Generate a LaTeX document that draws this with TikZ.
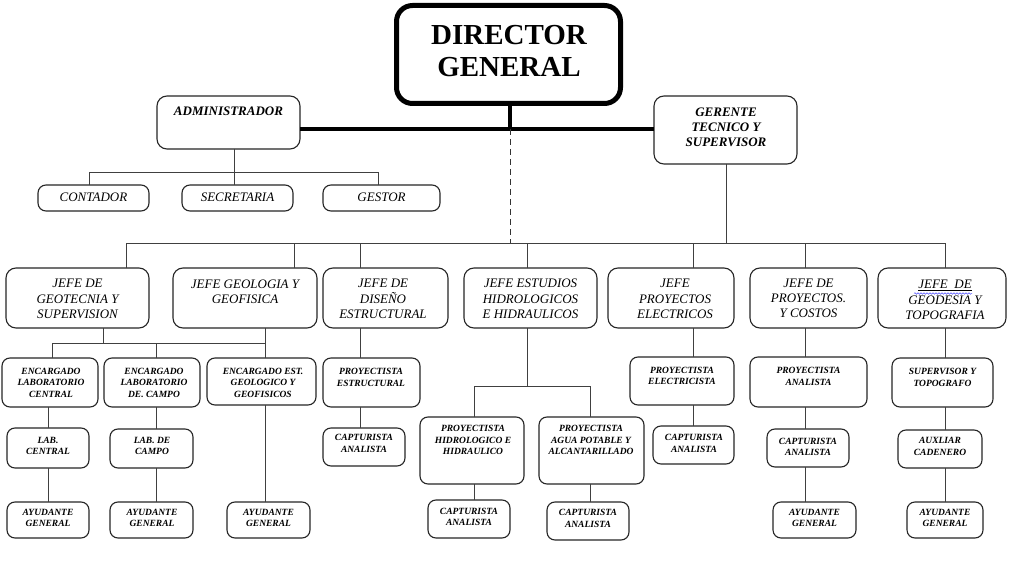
\documentclass[tikz,border=0pt]{standalone}
\usepackage{fontspec}
\setmainfont{Liberation Serif}[ItalicFont={Liberation Serif Italic},BoldFont={Liberation Serif Bold},BoldItalicFont={Liberation Serif Bold Italic}]
\usetikzlibrary{decorations.pathmorphing}
\newcommand\mybox[6][]{%
  \pgfmathsetmacro\bw{#5-#3}\pgfmathsetmacro\bh{#6-#4}%
  \pgfmathsetmacro\bcx{(#3+#5)/2}\pgfmathsetmacro\bcy{(#4+#6)/2}%
  \node[box,minimum width=\bw pt,minimum height=\bh pt,#1] (#2) at (\bcx,\bcy) {};}
\begin{document}
\begin{tikzpicture}[x=1pt,y=-1pt,
  box/.style={draw=black!85,line width=1.1pt,rounded corners=8pt,inner sep=0pt,outer sep=0pt},
  bigbox/.style={rounded corners=10pt},
  dirbox/.style={line width=5pt,draw=black,rounded corners=16pt},
  ln/.style={draw=black!75,line width=0.9pt},
  thick line/.style={draw=black,line width=4pt},
  dashline/.style={draw=black!80,line width=1pt,dash pattern=on 6pt off 4pt},
  dirtxt/.style={font=\fontsize{29}{32}\selectfont\bfseries,align=center,inner sep=0pt},
  bitxt/.style={font=\fontsize{13}{15}\selectfont\bfseries\itshape,align=center,inner sep=0pt},
  itxt/.style={font=\fontsize{13}{15}\selectfont\itshape,align=center,inner sep=0pt},
  jtxt/.style={font=\fontsize{13}{15.3}\selectfont\itshape,align=center,inner sep=0pt},
  stxt/.style={font=\fontsize{9.5}{11.5}\selectfont\bfseries\itshape,align=center,inner sep=0pt}
]
\fill[white] (0,0) rectangle (1009,588);
\useasboundingbox (0,0) rectangle (1009,588);

% ---- boxes ----
\mybox[dirbox]{dir}{396.5}{5.5}{620.5}{103.5}
\mybox[bigbox]{adm}{157}{96}{300}{149}
\mybox{cont}{38}{185}{149}{211}
\mybox{sec}{182}{185}{293}{211}
\mybox{gest}{323}{185}{440}{211}
\mybox[bigbox]{ger}{654}{96}{797}{164}
\mybox[bigbox]{ja}{6}{268}{149}{328}
\mybox[bigbox]{jb}{173}{268}{317}{328}
\mybox[bigbox]{jc}{323}{268}{448}{328}
\mybox[bigbox]{jd}{464}{268}{597}{328}
\mybox[bigbox]{je}{608}{268}{734}{328}
\mybox[bigbox]{jf}{750}{268}{867}{328}
\mybox[bigbox]{jg}{878}{268}{1006}{328}
\mybox{ea}{2}{358}{98}{407}
\mybox{eb}{104}{358}{200}{407}
\mybox{ec}{207}{358}{316}{405}
\mybox{la}{7}{428}{89}{468}
\mybox{lb}{110}{429}{193}{468}
\mybox{aa}{7}{502}{89}{538}
\mybox{ab}{110}{502}{193}{538}
\mybox{ac}{227}{502}{310}{538}
\mybox{pe}{323}{358}{420}{407}
\mybox{ce}{323}{428}{405}{466}
\mybox{ph}{420}{417}{524}{484}
\mybox{pa}{539}{417}{644}{484}
\mybox{ch}{428}{500}{510}{538}
\mybox{ca}{547}{502}{629}{540}
\mybox{pel}{630}{357}{734}{405}
\mybox{cel}{653}{426}{734}{464}
\mybox{pan}{750}{357}{867}{407}
\mybox{ccos}{767}{429}{849}{467}
\mybox{acos}{773}{502}{856}{538}
\mybox{sup}{892}{358}{993}{407}
\mybox{aux}{898}{430}{982}{468}
\mybox{ageo}{907}{502}{983}{538}

% ---- texts ----
\node[dirtxt] (dir-t) at (509,51) {DIRECTOR\\GENERAL};
\node[bitxt] (adm-t) at (228.5,111.5) {ADMINISTRADOR};
\node[itxt] (cont-t) at (93.5,197.5) {CONTADOR};
\node[itxt] (sec-t) at (237.5,197.5) {SECRETARIA};
\node[itxt] (gest-t) at (381.5,197.5) {GESTOR};
\node[bitxt] (ger-t) at (726,127) {GERENTE\\TECNICO Y\\SUPERVISOR};
\node[jtxt] (ja-t) at (77.5,299) {JEFE DE\\GEOTECNIA Y\\SUPERVISION};
\node[jtxt] (jb-t) at (245,291.5) {JEFE GEOLOGIA Y\\GEOFISICA};
\node[jtxt] (jc-t) at (383,299) {JEFE DE\\DISEÑO\\ESTRUCTURAL};
\node[jtxt] (jd-t) at (530.5,299) {JEFE ESTUDIOS\\HIDROLOGICOS\\E HIDRAULICOS};
\node[jtxt] (je-t) at (675,299) {JEFE\\PROYECTOS\\ELECTRICOS};
\node[jtxt] (jf-t) at (808.5,298.5) {JEFE DE\\PROYECTOS.\\Y COSTOS};
\node[jtxt] (jg-t) at (945,300) {\underline{JEFE\ \ DE}\\GEODESIA Y\\TOPOGRAFIA};
\node[stxt] (ea-t) at (51,382.5) {ENCARGADO\\LABORATORIO\\CENTRAL};
\node[stxt] (eb-t) at (154,382.5) {ENCARGADO\\LABORATORIO\\DE. CAMPO};
\node[stxt] (ec-t) at (263,382.5) {ENCARGADO EST.\\GEOLOGICO Y\\GEOFISICOS};
\node[stxt] (la-t) at (48,446) {LAB.\\CENTRAL};
\node[stxt] (lb-t) at (152,446) {LAB. DE\\CAMPO};
\node[stxt] (aa-t) at (48,518) {AYUDANTE\\GENERAL};
\node[stxt] (ab-t) at (152,518) {AYUDANTE\\GENERAL};
\node[stxt] (ac-t) at (268.5,518) {AYUDANTE\\GENERAL};
\node[stxt] (pe-t) at (371,377.5) {PROYECTISTA\\ESTRUCTURAL};
\node[stxt] (ce-t) at (364,443.5) {CAPTURISTA\\ANALISTA};
\node[stxt] (ph-t) at (473,440) {PROYECTISTA\\HIDROLOGICO E\\HIDRAULICO};
\node[stxt] (pa-t) at (591,440) {PROYECTISTA\\AGUA POTABLE Y\\ALCANTARILLADO};
\node[stxt] (ch-t) at (469,517) {CAPTURISTA\\ANALISTA};
\node[stxt] (ca-t) at (588,518.5) {CAPTURISTA\\ANALISTA};
\node[stxt] (pel-t) at (682,376) {PROYECTISTA\\ELECTRICISTA};
\node[stxt] (cel-t) at (694,443.5) {CAPTURISTA\\ANALISTA};
\node[stxt] (pan-t) at (808.5,376.5) {PROYECTISTA\\ANALISTA};
\node[stxt] (ccos-t) at (808,447) {CAPTURISTA\\ANALISTA};
\node[stxt] (acos-t) at (814.5,518) {AYUDANTE\\GENERAL};
\node[stxt] (sup-t) at (942.5,377.5) {SUPERVISOR Y\\TOPOGRAFO};
\node[stxt] (aux-t) at (940,446.5) {AUXLIAR\\CADENERO};
\node[stxt] (ageo-t) at (945,518) {AYUDANTE\\GENERAL};
% spell-check squiggle
\draw[blue!70,line width=0.5pt,decorate,decoration={snake,amplitude=0.8pt,segment length=3pt}] (914,293.5) -- (972,293.5);

% ---- connectors ----
\coordinate (hub) at (510,129);
\draw[thick line] (dir.south -| hub) -- (hub);
\draw[thick line] (adm.east |- hub) -- (ger.west |- hub);
\draw[dashline] (hub) -- (510,243);
% admin
\draw[ln] (adm.south -| 234,0) -- (sec.north -| 234,0);
\draw[ln] (cont.north -| 89,0) -- (89,172) -- (378,172) -- (gest.north -| 378,0);
% gerente
\draw[ln] (ger.south -| 726,0) -- (726,243);
\draw[ln] (ja.north -| 126,0) -- (126,243) -- (945,243) -- (jg.north -| 945,0);
\draw[ln] (jb.north -| 294,0) -- (294,243);
\draw[ln] (jc.north -| 360,0) -- (360,243);
\draw[ln] (jd.north -| 527,0) -- (527,243);
\draw[ln] (je.north -| 693,0) -- (693,243);
\draw[ln] (jf.north -| 805,0) -- (805,243);
% geotecnia / geologia
\draw[ln] (ja.south -| 103,0) -- (103,343);
\draw[ln] (jb.south -| 265,0) -- (ec.north -| 265,0);
\draw[ln] (ea.north -| 52,0) -- (52,343) -- (265,343);
\draw[ln] (eb.north -| 156,0) -- (156,343);
\draw[ln] (ea.south -| 48,0) -- (la.north -| 48,0);
\draw[ln] (la.south -| 48,0) -- (aa.north -| 48,0);
\draw[ln] (eb.south -| 156,0) -- (lb.north -| 156,0);
\draw[ln] (lb.south -| 156,0) -- (ab.north -| 156,0);
\draw[ln] (ec.south -| 265,0) -- (ac.north -| 265,0);
% diseno
\draw[ln] (jc.south -| 360,0) -- (pe.north -| 360,0);
\draw[ln] (pe.south -| 360,0) -- (ce.north -| 360,0);
% hidrologicos
\draw[ln] (jd.south -| 527,0) -- (527,386);
\draw[ln] (ph.north -| 474,0) -- (474,386) -- (590,386) -- (pa.north -| 590,0);
\draw[ln] (ph.south -| 474,0) -- (ch.north -| 474,0);
\draw[ln] (pa.south -| 590,0) -- (ca.north -| 590,0);
% electricos
\draw[ln] (je.south -| 693,0) -- (pel.north -| 693,0);
\draw[ln] (pel.south -| 693,0) -- (cel.north -| 693,0);
% costos
\draw[ln] (jf.south -| 805,0) -- (pan.north -| 805,0);
\draw[ln] (pan.south -| 805,0) -- (ccos.north -| 805,0);
\draw[ln] (ccos.south -| 805,0) -- (acos.north -| 805,0);
% geodesia
\draw[ln] (jg.south -| 945,0) -- (sup.north -| 945,0);
\draw[ln] (sup.south -| 945,0) -- (aux.north -| 945,0);
\draw[ln] (aux.south -| 945,0) -- (ageo.north -| 945,0);
\end{tikzpicture}
\end{document}
